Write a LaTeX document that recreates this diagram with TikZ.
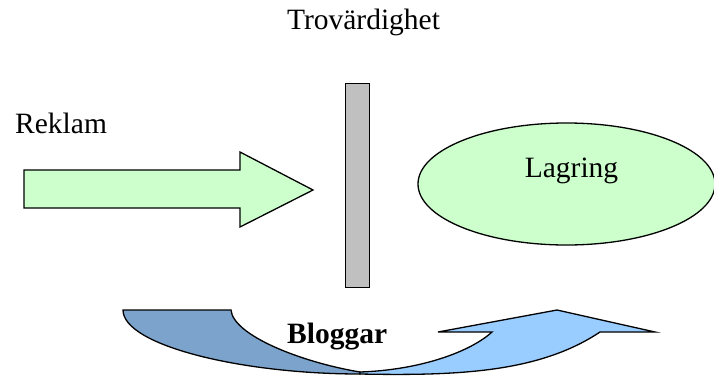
\documentclass[tikz,border=0pt]{standalone}
\usepackage{fontspec}
\setmainfont{Liberation Serif}
\definecolor{lgreen}{HTML}{CCFFCC}
\definecolor{lblue}{HTML}{99CCFF}
\definecolor{dblue}{HTML}{7BA3CC}
\definecolor{bargray}{HTML}{C0C0C0}
\begin{document}
\begin{tikzpicture}[x=1pt,y=-1pt,
  shapeline/.style={draw=black,line width=1.3pt,line join=miter},
  lbl/.style={inner sep=0pt,font=\fontsize{29.5}{34}\selectfont}]
\useasboundingbox (0,0) rectangle (714,375);
% labels
\node[lbl,anchor=base] (trov) at (363.5,29) {Trovärdighet};
\node[lbl,anchor=base west] (reklam) at (15,133) {Reklam};
% right arrow
\draw[shapeline,fill=lgreen] (24,170) -- (240,170) -- (240,152) -- (313,190) -- (240,227) -- (240,208) -- (24,208) -- cycle;
% gray bar
\node[shapeline,fill=bargray,minimum width=24pt,minimum height=204pt,inner sep=0pt,anchor=north west] (bar) at (345,83) {};
% ellipse
\draw[shapeline,fill=lgreen] (566.5,184) ellipse [x radius=148.5, y radius=61];
\node[lbl,anchor=base] (lagring) at (571.5,177) {Lagring};
% curved up arrow: back (dark) part
\draw[shapeline,fill=dblue] (123,310) -- (231,310)
  .. controls (233,335) and (300,362) .. (360,372)
  -- (360,374)
  .. controls (240,374) and (123,345) .. (123,310) -- cycle;
% front (light) part with head
\draw[shapeline,fill=lblue] (360,374)
  .. controls (460,376) and (540,372) .. (600,332)
  -- (655,332) -- (557,310) -- (438,332) -- (492,332)
  .. controls (470,352) and (420,370) .. (360,372) -- cycle;
\node[lbl,anchor=base west,font=\fontsize{29.5}{34}\selectfont\bfseries] (blog) at (287,343) {Bloggar};
\end{tikzpicture}
\end{document}
